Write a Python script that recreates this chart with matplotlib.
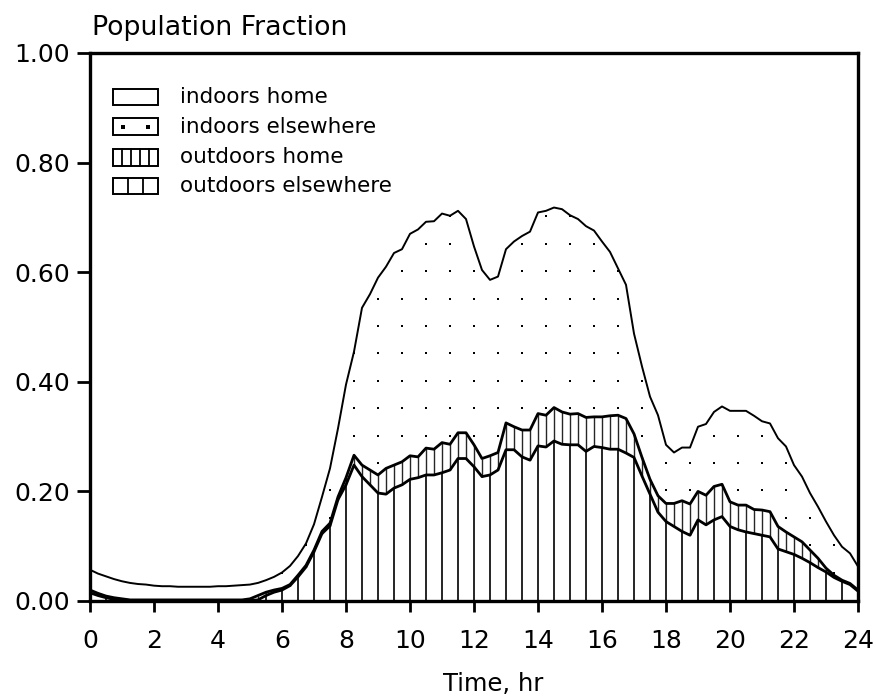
import numpy as np
import matplotlib
matplotlib.use("Agg")
import matplotlib.pyplot as plt
from matplotlib.patches import Rectangle

plt.rcParams['font.family'] = ['DejaVu Sans']

# Tiempo en horas (cada 15 minutos)
hours = np.arange(0, 24.01, 0.25)

# Fraccion de poblacion por categoria (lecturas del grafico)
outdoors_elsewhere = [
    0.015, 0.010, 0.006, 0.003,
    0.002, 0.001, 0.001, 0.001,
    0.001, 0.001, 0.001, 0.001,
    0.001, 0.001, 0.001, 0.001,
    0.001, 0.001, 0.001, 0.001,
    0.001, 0.002, 0.010, 0.016,
    0.020, 0.028, 0.044, 0.062,
    0.090, 0.123, 0.137, 0.185,
    0.212, 0.248, 0.227, 0.212,
    0.197, 0.195, 0.206, 0.212,
    0.222, 0.225, 0.230, 0.230,
    0.234, 0.239, 0.260, 0.260,
    0.245, 0.227, 0.230, 0.239,
    0.276, 0.276, 0.263, 0.257,
    0.283, 0.281, 0.292, 0.286,
    0.285, 0.285, 0.273, 0.282,
    0.280, 0.277, 0.277, 0.270,
    0.262, 0.228, 0.195, 0.162,
    0.145, 0.136, 0.127, 0.120,
    0.148, 0.139, 0.148, 0.154,
    0.136, 0.130, 0.126, 0.123,
    0.120, 0.117, 0.095, 0.090,
    0.085, 0.078, 0.070, 0.061,
    0.053, 0.043, 0.036, 0.030,
    0.018]

outdoors_home = [
    0.005, 0.004, 0.003, 0.003,
    0.002, 0.001, 0.001, 0.001,
    0.001, 0.001, 0.001, 0.001,
    0.001, 0.001, 0.001, 0.001,
    0.001, 0.001, 0.001, 0.001,
    0.003, 0.008, 0.006, 0.004,
    0.003, 0.002, 0.003, 0.003,
    0.003, 0.004, 0.005, 0.005,
    0.013, 0.018, 0.021, 0.027,
    0.033, 0.047, 0.042, 0.042,
    0.043, 0.038, 0.049, 0.047,
    0.055, 0.047, 0.047, 0.047,
    0.040, 0.033, 0.035, 0.032,
    0.049, 0.042, 0.049, 0.055,
    0.059, 0.058, 0.061, 0.059,
    0.056, 0.057, 0.062, 0.054,
    0.056, 0.061, 0.062, 0.063,
    0.043, 0.034, 0.027, 0.030,
    0.033, 0.042, 0.056, 0.057,
    0.052, 0.054, 0.061, 0.059,
    0.045, 0.045, 0.049, 0.044,
    0.046, 0.046, 0.041, 0.036,
    0.032, 0.030, 0.023, 0.017,
    0.007, 0.004, 0.002, 0.002,
    0.002]

indoors_elsewhere = [
    0.037, 0.036, 0.036, 0.034,
    0.032, 0.031, 0.029, 0.028,
    0.026, 0.025, 0.025, 0.024,
    0.024, 0.024, 0.024, 0.024,
    0.025, 0.025, 0.026, 0.027,
    0.026, 0.023, 0.022, 0.024,
    0.029, 0.034, 0.035, 0.040,
    0.047, 0.063, 0.100, 0.125,
    0.170, 0.189, 0.287, 0.321,
    0.360, 0.368, 0.387, 0.388,
    0.405, 0.415, 0.413, 0.416,
    0.418, 0.417, 0.405, 0.390,
    0.362, 0.344, 0.321, 0.321,
    0.317, 0.338, 0.354, 0.362,
    0.367, 0.373, 0.365, 0.370,
    0.363, 0.355, 0.349, 0.340,
    0.320, 0.299, 0.268, 0.244,
    0.183, 0.166, 0.151, 0.147,
    0.107, 0.093, 0.097, 0.103,
    0.118, 0.130, 0.136, 0.142,
    0.166, 0.172, 0.172, 0.171,
    0.162, 0.161, 0.161, 0.156,
    0.131, 0.119, 0.104, 0.094,
    0.085, 0.073, 0.061, 0.055,
    0.043]

labels = ['indoors home', 'indoors elsewhere', 'outdoors home', 'outdoors elsewhere']
x_ticks = list(range(0, 25, 2))
y_ticks = [0.0, 0.2, 0.4, 0.6, 0.8, 1.0]

# Acumulados para las curvas
tops = np.cumsum(np.vstack([outdoors_elsewhere, outdoors_home, indoors_elsewhere]), axis=0)

fig = plt.figure(figsize=(8.76, 6.97), dpi=100)
ax = fig.add_axes([90 / 876, 1 - 601 / 697, 768 / 876, 548 / 697])

# Rayado vertical: afuera en otro lugar (cada media hora), afuera en casa (cada 15 min)
ax.vlines(hours[::2], 0, tops[0][::2], color='black', linewidth=1.2)
ax.vlines(hours, tops[0], tops[1], color='0.15', linewidth=1.0)

# Puntos: adentro en otro lugar
region = ax.fill_between(hours, tops[1], tops[2], facecolor='none', linewidth=0)
gx, gy = np.meshgrid(np.arange(6.0, 24.0, 0.75), np.arange(0.052, 0.75, 0.05))
dots = ax.scatter(gx.ravel(), gy.ravel(), s=4.5, marker='s', color='black', linewidths=0)
dots.set_clip_path(region.get_paths()[0], transform=ax.transData)

ax.plot(hours, tops[0], color='black', linewidth=2.0)
ax.plot(hours, tops[1], color='black', linewidth=2.0)
ax.plot(hours, tops[2], color='black', linewidth=1.4)

ax.set_xlim(0, 24)
ax.set_ylim(0, 1)
ax.set_xticks(x_ticks)
ax.set_xticklabels([str(t) for t in x_ticks])
ax.set_yticks(y_ticks)
ax.set_yticklabels([f"{v:.2f}" for v in y_ticks])
ax.tick_params(axis='x', direction='out', length=8, width=2, pad=12, labelsize=18)
ax.tick_params(axis='y', direction='out', length=9.5, width=2, pad=5, labelsize=18)
for s in ax.spines.values():
    s.set_linewidth(2.4)

# Leyenda hecha a mano
x0, w, h = 0.0296, 0.0594, 0.031
rows = [0.9197, 0.8650, 0.8102, 0.7573]
for lab, yc in zip(labels, rows):
    ax.add_patch(Rectangle((x0, yc - h / 2), w, h, transform=ax.transAxes,
                           facecolor='white', edgecolor='black', linewidth=1.4))
    ax.text(0.117, yc, lab, transform=ax.transAxes, fontsize=15.5, va='center', ha='left')
ax.scatter([0.043, 0.0755], [rows[1], rows[1]], s=5, marker='s', color='black',
           linewidths=0, transform=ax.transAxes)
for k in range(1, 5):
    xx = x0 + w * k / 5
    ax.plot([xx, xx], [rows[2] - h / 2, rows[2] + h / 2], color='black',
            linewidth=1.3, transform=ax.transAxes)
for k in range(1, 3):
    xx = x0 + w * k / 3
    ax.plot([xx, xx], [rows[3] - h / 2, rows[3] + h / 2], color='black',
            linewidth=1.3, transform=ax.transAxes)

fig.text(92 / 876, 1 - 35 / 697, 'Population Fraction', fontsize=19.3, ha='left', va='baseline')
fig.text(493 / 876, 1 - 690.5 / 697, 'Time, hr', fontsize=17.5, ha='center', va='baseline')

fig.savefig('out.png', dpi=100)
